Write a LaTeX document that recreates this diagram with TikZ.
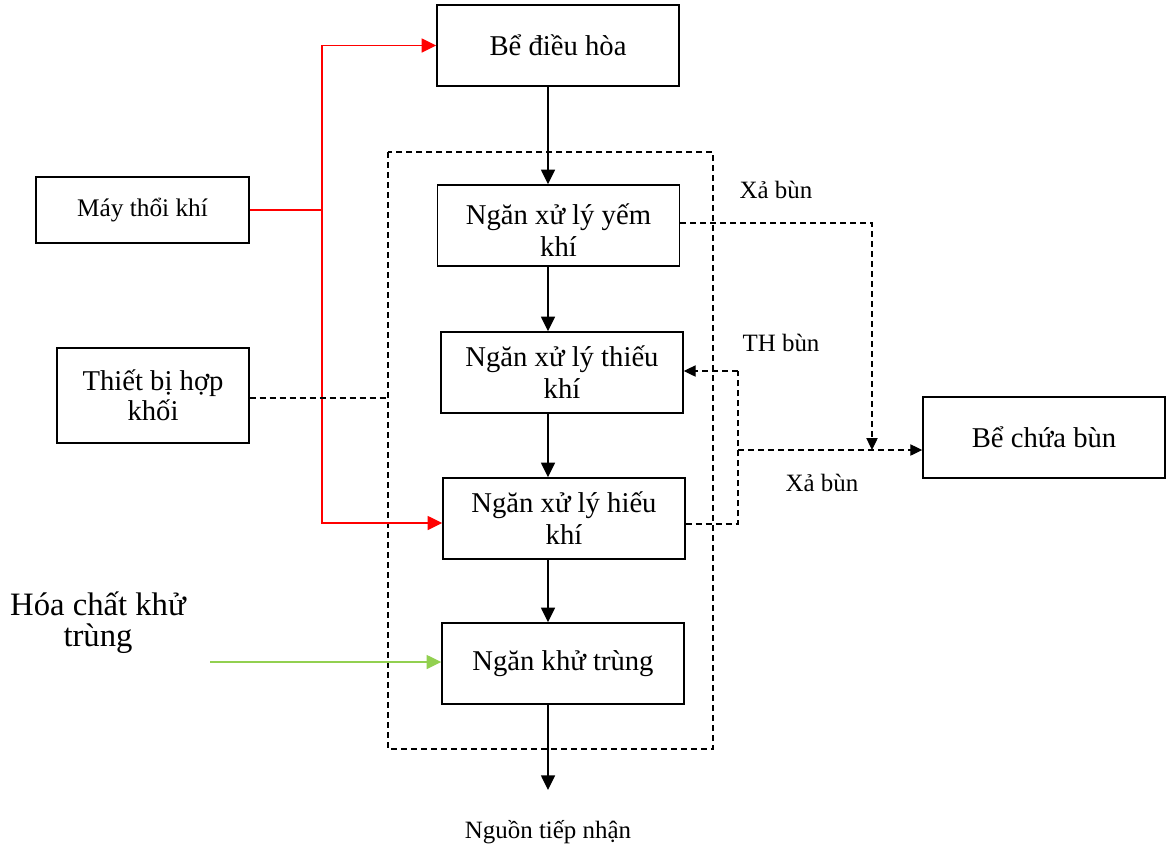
\documentclass[tikz,border=0pt]{standalone}
\usepackage{fontspec}
\setmainfont{Liberation Serif}
\usetikzlibrary{arrows.meta}
\definecolor{lgreen}{RGB}{146,208,80}
\begin{document}
\begin{tikzpicture}[x=0.75pt,y=-0.75pt,
  box/.style={draw,line width=1.1pt,minimum width=242*0.75pt,minimum height=81*0.75pt,inner sep=0pt,align=center,font=\fontsize{21.5}{24}\selectfont},
  boxtext/.style={inner sep=0pt,align=center,font=\fontsize{21.5}{24}\selectfont},
  tip/.style={-{Triangle[length=11pt,width=10.5pt]}},
  dtip/.style={-{Triangle[length=9pt,width=8.5pt]}},
  dsh/.style={dash pattern=on 4.5pt off 3pt,line width=0.9pt},
  lbl/.style={font=\fontsize{18.7}{22}\selectfont,align=center}]
\useasboundingbox (0,0) rectangle (1166,847);
% dashed frame
\draw[dsh] (388,152) rectangle (713,749);
% boxes
\node[box] (dh) at (558,45.5) {Bể điều hòa};
\node[box] (yk) at (558.5,225.5) {};
\node[boxtext] (ykt) at ([yshift=-3.5pt]yk.center) {Ngăn xử lý yếm\\khí};
\node[box] (tk) at (562,372.5) {Ngăn xử lý thiếu\\khí};
\node[box] (hk) at (564,518.5) {Ngăn xử lý hiếu\\khí};
\node[box] (kt) at (563,663.5) {Ngăn khử trùng};
\node[box,minimum width=213*0.75pt,minimum height=66*0.75pt,font=\fontsize{19}{22}\selectfont] (mtk) at (142.5,210) {Máy thổi khí};
\node[box,minimum width=192*0.75pt,minimum height=95*0.75pt,font=\fontsize{21.5}{22.5}\selectfont] (tb) at (153,395.5) {Thiết bị hợp\\khối};
\node[box] (bcb) at (1044,437.5) {Bể chứa bùn};
\node[lbl,font=\fontsize{24.5}{23}\selectfont] (hc) at (98,623) {Hóa chất khử\\trùng};
\node[lbl,font=\fontsize{18.7}{22}\selectfont] (ntn) at (548,832) {Nguồn tiếp nhận};
\node[lbl] (xb1) at (776,190) {Xả bùn};
\node[lbl] (th) at (781,343) {TH bùn};
\node[lbl] (xb2) at (822,483) {Xả bùn};
% coordinates
\coordinate (col) at (548,0);
\coordinate (rj) at (322,210);
\coordinate (rb) at (322,523);
\coordinate (gs) at (210,662);
\coordinate (fe) at (388,398);
\coordinate (out) at (548,790);
\coordinate (d1) at (872,223);
\coordinate (d2) at (872,450);
\coordinate (j1) at (738,450);
\coordinate (j2) at (738,371);
\coordinate (j3) at (738,524);
% main flow
\draw[tip,line width=1.1pt] (dh.south -| col) -- (yk.north -| col);
\draw[tip,line width=1.1pt] (yk.south -| col) -- (tk.north -| col);
\draw[tip,line width=1.1pt] (tk.south -| col) -- (hk.north -| col);
\draw[tip,line width=1.1pt] (hk.south -| col) -- (kt.north -| col);
\draw[tip,line width=1.1pt] (kt.south -| col) -- (out);
% red air lines
\draw[red,line width=1.1pt] (mtk.east) -- (rj);
\draw[red,line width=1.1pt,tip] (rj) -- (rj |- dh.west) -- (dh.west);
\draw[red,line width=1.1pt,tip] (rj) -- (rb) -- (hk.west |- rb);
% green
\draw[lgreen,line width=1.1pt,tip] (gs) -- (kt.west |- gs);
% Thiet bi dashed
\draw[dsh] (tb.east |- fe) -- (fe);
% sludge lines
\draw[dsh,dtip] (yk.east |- d1) -- (d1) -- (d2);
\draw[dsh,dtip] (j1) -- (bcb.west |- j1);
\draw[dsh] (hk.east |- j3) -- (j3) -- (j2);
\draw[dsh,dtip] (j2) -- (tk.east |- j2);
\draw[dsh] (j1) -- (d2);
\end{tikzpicture}
\end{document}
